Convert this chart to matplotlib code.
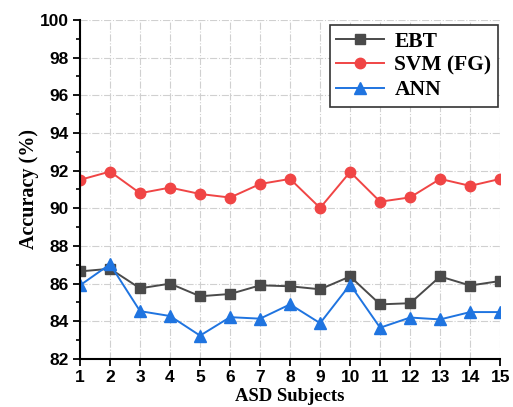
import numpy as np
import matplotlib.pyplot as plt

subjects = np.arange(1, 16)
ebt = [86.65, 86.79, 85.75, 86.0, 85.33, 85.45, 85.91, 85.86, 85.7, 86.38, 84.9, 84.96, 86.38, 85.9, 86.14]
svm = [91.51, 91.95, 90.8, 91.1, 90.76, 90.57, 91.29, 91.56, 90.02, 91.93, 90.35, 90.58, 91.56, 91.19, 91.56]
ann = [85.91, 87.03, 84.54, 84.28, 83.24, 84.22, 84.14, 84.9, 83.9, 85.95, 83.66, 84.2, 84.1, 84.49, 84.49]

fig = plt.figure(figsize=(5.13, 4.07), dpi=100)
ax = fig.add_axes([0.156, 0.118, 0.819, 0.833])

ax.plot(subjects, ebt, color='#4a4a4a', marker='s', markersize=7, lw=1.4, label='EBT')
ax.plot(subjects, svm, color='#f04545', marker='o', markersize=7.5, lw=1.4, label='SVM (FG)')
ax.plot(subjects, ann, color='#1f74e0', marker='^', markersize=8, lw=1.4, label='ANN')

ax.set_xlim(1, 15)
ax.set_ylim(82, 100)
ax.set_xticks(subjects)
ax.set_yticks(np.arange(82, 101, 2))
ax.set_yticks(np.arange(83, 100, 2), minor=True)
ax.grid(True, color='#d0d0d0', linestyle='-.', lw=0.8)
ax.set_axisbelow(True)

for s in ['top', 'right']:
    ax.spines[s].set_visible(False)
for s in ['left', 'bottom']:
    ax.spines[s].set_linewidth(1.5)
ax.tick_params(axis='both', which='major', width=1.3, length=5, labelsize=12.5, pad=3)
ax.tick_params(axis='y', which='minor', width=1.2, length=3)
for lbl in ax.get_xticklabels() + ax.get_yticklabels():
    lbl.set_fontfamily('Liberation Sans')
    lbl.set_fontweight('bold')

ax.set_xlabel('ASD Subjects', fontfamily='Liberation Serif', fontweight='bold', fontsize=13.5, labelpad=2)
ax.set_ylabel('Accuracy (%)', fontfamily='Liberation Serif', fontweight='bold', fontsize=14.5, labelpad=1)

leg = ax.legend(loc='upper right', bbox_to_anchor=(0.995, 0.985), fancybox=False, edgecolor='#333333',
                prop={'family': 'Liberation Serif', 'weight': 'bold', 'size': 15.5},
                handlelength=2.2, borderpad=0.3, labelspacing=0.2, handletextpad=0.5,
                borderaxespad=0.0, framealpha=1)
leg.get_frame().set_linewidth(1.2)

fig.savefig('out.png', dpi=100)
